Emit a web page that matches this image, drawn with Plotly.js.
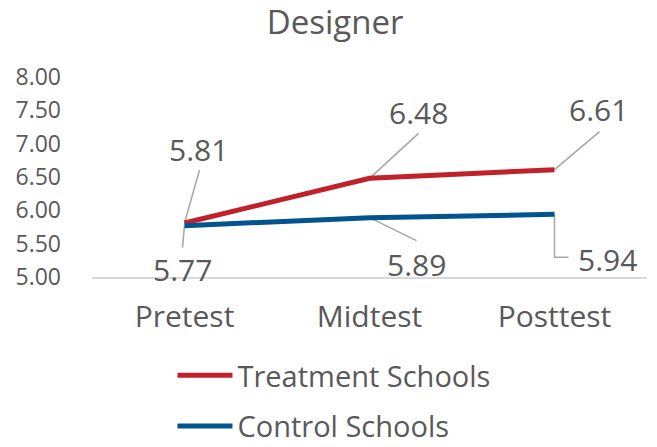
<!DOCTYPE html>
<html>
<head>
<meta charset="utf-8">
<script src="https://cdn.plot.ly/plotly-3.0.1.min.js"></script>
<style>
  html, body { margin: 0; padding: 0; background: #fff; }
  #chart { width: 657px; height: 447px; }
</style>
</head>
<body>
<div id="chart"></div>
<script>
// Scores by test phase
const categories = ['Pretest', 'Midtest', 'Posttest'];
const treatmentScores = [5.81, 6.48, 6.61];
const controlScores = [5.77, 5.89, 5.94];
const seriesNames = ['Treatment Schools', 'Control Schools'];
const yTicks = [5.0, 5.5, 6.0, 6.5, 7.0, 7.5, 8.0];

// Styling
const textColor = '#595959';
const fontFamily = '"Open Sans", sans-serif';
const leaderColor = '#a6a6a6';
const colors = ['#c0212b', '#02548f'];

// Label placement: pixel offsets from each point (x right, y up),
// and leader-line paths drawn in the same pixel frame.
const treatmentLabelOffsets = [[14, 74], [49, 66], [44, 60]];
const controlLabelOffsets = [[-2, -44], [47, -47], [53, -45]];
const treatmentLeaders = [
  [[0, 0], [15, 53]],
  [[0, 0], [49, 45]],
  [[0, 0], [45, 38]]
];
const controlLeaders = [
  [[0, 0], [-2, -22]],
  [[0, 0], [47, -23]],
  [[0, 0], [0, -43], [14, -43]]
];

const traces = [
  {
    x: categories, y: treatmentScores, name: seriesNames[0],
    type: 'scatter', mode: 'lines', legendgroup: 'a',
    line: { color: colors[0], width: 5 }
  },
  {
    x: categories, y: controlScores, name: seriesNames[1],
    type: 'scatter', mode: 'lines', legendgroup: 'b',
    line: { color: colors[1], width: 5 }
  }
];

const annotations = [];
const shapes = [];
function addLabels(values, offsets, leaders) {
  values.forEach((v, i) => {
    annotations.push({
      x: categories[i], y: v, xref: 'x', yref: 'y',
      text: v.toFixed(2), showarrow: false,
      xanchor: 'center', yanchor: 'middle',
      xshift: offsets[i][0], yshift: offsets[i][1],
      font: { family: fontFamily, size: 30, color: textColor }
    });
    const pts = leaders[i];
    const path = pts.map((p, k) => (k === 0 ? 'M' : 'L') + p[0] + ',' + p[1]).join(' ');
    shapes.push({
      type: 'path', xref: 'x', yref: 'y',
      xsizemode: 'pixel', ysizemode: 'pixel',
      xanchor: i, yanchor: v,
      path: path,
      line: { color: leaderColor, width: 1.5 },
      layer: 'below'
    });
  });
}
addLabels(treatmentScores, treatmentLabelOffsets, treatmentLeaders);
addLabels(controlScores, controlLabelOffsets, controlLeaders);

const layout = {
  width: 657, height: 447,
  margin: { l: 92, r: 10, t: 77, b: 170, autoexpand: false },
  paper_bgcolor: '#fff', plot_bgcolor: '#fff',
  font: { family: fontFamily, color: textColor },
  title: {
    text: 'Designer',
    x: 0.51, xref: 'container', xanchor: 'center',
    y: 0.95, yref: 'container', yanchor: 'middle',
    font: { family: fontFamily, size: 33, color: textColor }
  },
  xaxis: {
    type: 'category', range: [-0.5, 2.5],
    showgrid: false, zeroline: false,
    showline: true, linecolor: '#d9d9d9', linewidth: 1.5,
    ticks: '', ticklabelstandoff: 12,
    tickfont: { family: fontFamily, size: 30, color: textColor },
    fixedrange: true
  },
  yaxis: {
    range: [5, 8], tickvals: yTicks, tickformat: '.2f',
    showgrid: false, zeroline: false, showline: false,
    ticks: '', ticklabelstandoff: 30,
    tickfont: { family: fontFamily, size: 23, color: textColor },
    fixedrange: true
  },
  showlegend: true,
  legend: {
    orientation: 'v', traceorder: 'grouped', tracegroupgap: 10,
    x: 0.145, xanchor: 'left', y: -0.365, yanchor: 'top',
    itemwidth: 55,
    font: { family: fontFamily, size: 29, color: textColor },
    bgcolor: 'rgba(0,0,0,0)'
  },
  annotations: annotations,
  shapes: shapes
};

Plotly.newPlot('chart', traces, layout, { displayModeBar: false, staticPlot: true });
</script>
</body>
</html>
